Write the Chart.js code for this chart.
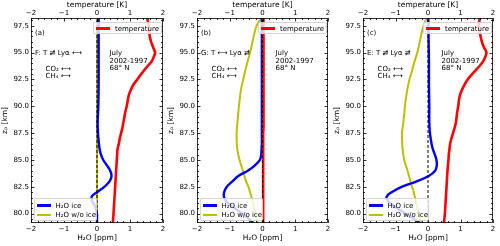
<!DOCTYPE html>
<html>
<head>
<meta charset="utf-8">
<script src="https://cdn.jsdelivr.net/npm/chart.js@4"></script>
<style>
  body { margin: 0; background: #fff; }
  #wrap { position: relative; width: 500px; height: 246px; overflow: hidden; font-family: 'DejaVu Sans'; color: #000; }
  #wrap canvas { position: absolute; top: 0; }
  .txt { position: absolute; font-size: 7px; line-height: 8px; white-space: nowrap; transform: translateY(-50%); }
  .leg { position: absolute; background: rgba(255,255,255,0.8); border: 1px solid rgba(204,204,204,0.8); border-radius: 2px; box-sizing: border-box; }
  .leg .it { position: absolute; left: 0; font-size: 7px; line-height: 8px; white-space: nowrap; transform: translateY(-50%); }
  .leg .sw { display: inline-block; width: 14px; vertical-align: middle; margin: 0 5px 0 2px; }
</style>
</head>
<body>
<div id="wrap">
  <canvas id="cA" width="166" height="246" style="left:0px"></canvas>
  <canvas id="cB" width="166" height="246" style="left:166px"></canvas>
  <canvas id="cC" width="168" height="246" style="left:332px"></canvas>
</div>
<script>
// limites dos eixos
const yMin = 79.13, yMax = 98.22;

// temperatura (eixo de cima, K)
const tempAlt = [98.2, 97.8, 97.4, 97.0, 96.5, 96.0, 95.5, 95.0, 94.6, 94.2, 93.8, 93.4, 93.0, 92.5, 92.0, 91.5, 91.0, 90.5, 90.0, 89.5, 89.0, 88.5, 88.0, 87.5, 87.0, 86.5, 86.0, 85.5, 85.0, 84.0, 83.0, 82.0, 81.0, 80.0, 79.13];
const tempA = [1.52, 1.55, 1.57, 1.58, 1.60, 1.64, 1.70, 1.76, 1.72, 1.66, 1.55, 1.44, 1.34, 1.22, 1.10, 1.02, 0.96, 0.93, 0.90, 0.86, 0.83, 0.80, 0.77, 0.73, 0.69, 0.66, 0.62, 0.61, 0.60, 0.58, 0.56, 0.54, 0.52, 0.50, 0.48];
const tempB = [0.03, 0.03, 0.03, 0.03, 0.03, 0.03, 0.03, 0.03, 0.03, 0.03, 0.03, 0.03, 0.03, 0.03, 0.03, 0.03, 0.03, 0.03, 0.03, 0.03, 0.03, 0.03, 0.03, 0.02, 0.02, 0.02, 0.02, 0.02, 0.02, 0.02, 0.02, 0.02, 0.02, 0.02, 0.02];
const tempC = [1.60, 1.57, 1.56, 1.58, 1.62, 1.66, 1.72, 1.80, 1.76, 1.70, 1.60, 1.48, 1.36, 1.22, 1.12, 1.04, 0.98, 0.95, 0.93, 0.90, 0.88, 0.86, 0.82, 0.77, 0.72, 0.68, 0.66, 0.64, 0.63, 0.60, 0.58, 0.56, 0.54, 0.52, 0.49];

// H2O com gelo (ppm)
const iceAlt = [98.2, 96.0, 94.0, 92.0, 90.0, 88.5, 87.5, 86.5, 86.0, 85.5, 85.0, 84.5, 84.0, 83.5, 83.0, 82.5, 82.0, 81.6, 81.2, 80.8, 80.4, 80.0, 79.6, 79.13];
const iceA = [0.05, 0.05, 0.05, 0.05, 0.04, 0.02, 0.03, 0.06, 0.08, 0.12, 0.19, 0.30, 0.40, 0.44, 0.38, 0.22, 0.00, -0.16, -0.15, -0.08, -0.03, 0.00, 0.00, 0.00];
const iceB = [-0.02, -0.02, -0.02, -0.02, -0.02, -0.02, -0.02, -0.02, -0.03, -0.04, -0.08, -0.23, -0.45, -0.74, -0.92, -1.09, -1.17, -1.18, -1.12, -0.98, -0.80, -0.62, -0.45, -0.28];
const iceC = [0.01, 0.02, 0.03, 0.03, 0.04, 0.04, 0.06, 0.11, 0.15, 0.21, 0.26, 0.27, 0.22, 0.02, -0.35, -0.81, -1.12, -1.27, -1.24, -1.10, -0.90, -0.68, -0.47, -0.25];

// H2O sem gelo (ppm)
const noIceAlt = [98.2, 97.5, 96.5, 95.5, 95.0, 94.0, 93.0, 92.5, 91.5, 90.5, 90.0, 89.0, 88.0, 87.5, 87.0, 86.0, 85.0, 84.0, 83.0, 82.5, 82.0, 81.0, 80.0, 79.13];
const noIceA = [0, 0, 0, 0, 0, 0, 0, 0, 0, 0, 0, 0, 0, 0, 0, 0, 0, 0, 0, 0, 0, 0, 0, 0];
const noIceB = [-0.05, -0.18, -0.27, -0.34, -0.38, -0.47, -0.55, -0.59, -0.66, -0.70, -0.72, -0.75, -0.78, -0.79, -0.79, -0.77, -0.70, -0.60, -0.50, -0.43, -0.38, -0.29, -0.21, -0.15];
const noIceC = [-0.04, -0.14, -0.22, -0.29, -0.33, -0.43, -0.52, -0.57, -0.64, -0.69, -0.71, -0.74, -0.78, -0.80, -0.80, -0.78, -0.73, -0.63, -0.54, -0.49, -0.44, -0.36, -0.29, -0.19];

// linha do zero tracejada
const zeroAlt = [yMin, yMax];
const zeroVal = [0, 0];

const xTicks = [-2, -1, 0, 1, 2];

const paineis = [
  { canvas: 'cA', left: 0, padRight: 3, letra: '(a)', linha1: 'F: T \u21C4\u0338 Ly\u03B1 \u27F7', temp: tempA, ice: iceA, noIce: noIceA },
  { canvas: 'cB', left: 166, padRight: 4, letra: '(b)', linha1: 'G: T \u27F7 Ly\u03B1 \u21C4\u0338', temp: tempB, ice: iceB, noIce: noIceB },
  { canvas: 'cC', left: 332, padRight: 7, letra: '(c)', linha1: 'E: T \u21C4\u0338 Ly\u03B1 \u21C4\u0338', temp: tempC, ice: iceC, noIce: noIceC },
];

Chart.defaults.font.family = 'DejaVu Sans';
Chart.defaults.font.size = 7;
Chart.defaults.color = '#000';

const pontos = (alts, vals) => alts.map((a, i) => ({ x: vals[i], y: a }));
const menos = (v) => (v < 0 ? '\u2212' + Math.abs(v) : String(v));
const semGrade = { display: false, drawTicks: false, tickLength: 0 };

// ticks para dentro, estilo matplotlib, e moldura
const ticksDentro = {
  id: 'ticksDentro',
  afterDraw(chart) {
    const { ctx, chartArea: a, scales } = chart;
    ctx.save();
    ctx.strokeStyle = '#000';
    ctx.lineWidth = 0.8;
    const linha = (x1, y1, x2, y2) => { ctx.beginPath(); ctx.moveTo(x1, y1); ctx.lineTo(x2, y2); ctx.stroke(); };
    for (let i = -10; i <= 10; i++) {
      const px = Math.round(scales.x.getPixelForValue(i * 0.2)) + 0.5;
      const len = i % 5 === 0 ? 3.5 : 2;
      linha(px, a.bottom, px, a.bottom - len);
      linha(px, a.top, px, a.top + len);
    }
    for (let i = 159; i <= 196; i++) {
      const py = Math.round(scales.y.getPixelForValue(i / 2)) + 0.5;
      const len = i % 5 === 0 ? 3.5 : 2;
      linha(a.left, py, a.left + len, py);
      linha(a.right, py, a.right - len, py);
    }
    ctx.strokeRect(a.left + 0.5, a.top + 0.5, a.width - 1, a.height - 1);
    ctx.restore();
  }
};

const wrap = document.getElementById('wrap');
const addTxt = (html, x, y, cls) => {
  const d = document.createElement('div');
  d.className = cls || 'txt';
  d.innerHTML = html;
  d.style.left = x + 'px';
  d.style.top = y + 'px';
  wrap.appendChild(d);
  return d;
};

paineis.forEach((p) => {
  const ctx = document.getElementById(p.canvas).getContext('2d');
  const chart = new Chart(ctx, {
    type: 'scatter',
    data: {
      datasets: [
        { data: pontos(zeroAlt, zeroVal), borderColor: '#000', borderWidth: 1, borderDash: [3, 2], showLine: true, pointRadius: 0 },
        { data: pontos(tempAlt, p.temp), xAxisID: 'x2', borderColor: '#ff0000', borderWidth: 2.6, showLine: true, pointRadius: 0, tension: 0.3 },
        { data: pontos(iceAlt, p.ice), borderColor: '#0000ff', borderWidth: 2.4, showLine: true, pointRadius: 0, tension: 0.4 },
        { data: pontos(noIceAlt, p.noIce), borderColor: '#bfbf00', borderWidth: 2, showLine: true, pointRadius: 0, tension: 0.4 },
      ],
    },
    options: {
      responsive: false,
      animation: false,
      layout: { padding: { left: 0, right: p.padRight, top: 0, bottom: 0 } },
      plugins: { legend: { display: false }, tooltip: { enabled: false } },
      scales: {
        x: {
          type: 'linear', position: 'bottom', min: -2, max: 2,
          afterBuildTicks: (s) => { s.ticks = xTicks.map((v) => ({ value: v })); },
          ticks: { callback: menos, padding: 2, maxRotation: 0, autoSkip: false },
          grid: semGrade, border: { display: false },
          title: { display: true, text: 'H\u2082O [ppm]', font: { size: 7.5 }, padding: { top: 0, bottom: 3 } },
          afterFit: (s) => { s.height = 23; s.paddingLeft = 0; s.paddingRight = 0; },
        },
        x2: {
          type: 'linear', position: 'top', min: -2, max: 2,
          afterBuildTicks: (s) => { s.ticks = xTicks.map((v) => ({ value: v })); },
          ticks: { callback: menos, padding: 1, maxRotation: 0, autoSkip: false },
          grid: semGrade, border: { display: false },
          title: { display: true, text: 'temperature [K]', font: { size: 7.5 }, padding: { top: 1, bottom: 0 } },
          afterFit: (s) => { s.height = 18; s.paddingLeft = 0; s.paddingRight = 0; },
        },
        y: {
          type: 'linear', min: yMin, max: yMax,
          ticks: { stepSize: 2.5, includeBounds: false, callback: (v) => v.toFixed(1), padding: 2 },
          grid: semGrade, border: { display: false },
          title: { display: true, text: 'z\u209A [km]', font: { size: 7.5 }, padding: { top: 1, bottom: 0 } },
          afterFit: (s) => { s.width = 31; s.paddingTop = 0; s.paddingBottom = 0; },
        },
      },
    },
    plugins: [ticksDentro],
  });

  // textos e legendas posicionados a partir da área do gráfico
  const a = chart.chartArea;
  const L = p.left + a.left, R = p.left + a.right, T = a.top;
  addTxt(p.letra, L + 4, T + 15);
  addTxt(p.linha1, L + 4, T + 35);
  addTxt('CO\u2082 \u27F7', L + 14.5, T + 51);
  addTxt('CH\u2084 \u27F7', L + 14.5, T + 58);
  addTxt('July', L + 78.5, T + 35);
  addTxt('2002-1997', L + 78.5, T + 42.5);
  addTxt('68\u00B0 N', L + 78.5, T + 50);

  const leg1 = addTxt('', R - 70, T + 4, 'leg');
  leg1.style.width = '68.5px';
  leg1.style.height = '12px';
  const i1 = document.createElement('div');
  i1.className = 'it';
  i1.style.top = '5.5px';
  i1.innerHTML = '<span class="sw" style="height:2.6px;background:#ff0000"></span>temperature';
  leg1.appendChild(i1);

  const leg2 = addTxt('', L + 2.5, a.bottom - 25, 'leg');
  leg2.style.width = '63px';
  leg2.style.height = '22.5px';
  [['#0000ff', 'H\u2082O ice', 6.5, 2.4], ['#bfbf00', 'H\u2082O w/o ice', 15.5, 2]].forEach(([cor, txt, y, w]) => {
    const it = document.createElement('div');
    it.className = 'it';
    it.style.top = y + 'px';
    it.innerHTML = '<span class="sw" style="height:' + w + 'px;background:' + cor + '"></span>' + txt;
    leg2.appendChild(it);
  });
});
</script>
</body>
</html>
